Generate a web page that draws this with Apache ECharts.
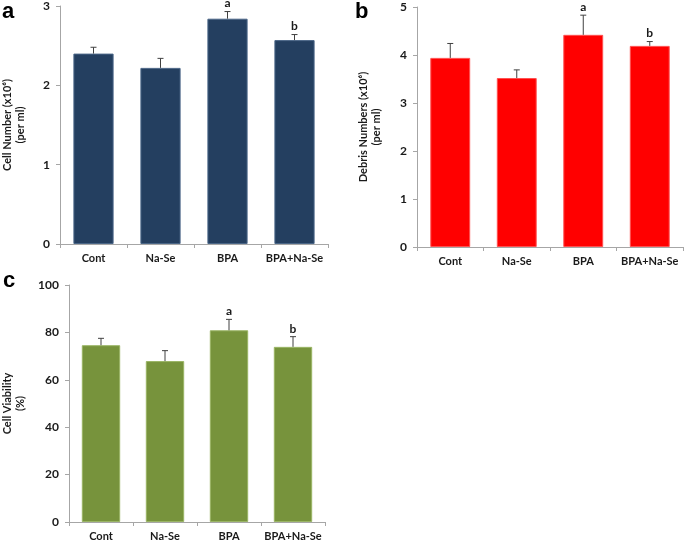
<!DOCTYPE html>
<html><head><meta charset="utf-8">
<script src="https://cdn.jsdelivr.net/npm/echarts@6/dist/echarts.min.js"></script>
<style>html,body{margin:0;padding:0;background:#fff}#c{width:685px;height:542px}</style>
</head><body><div id="c"></div>
<script>
const categories = ['Cont', 'Na-Se', 'BPA', 'BPA+Na-Se'];
const cellNumber = [2.40, 2.22, 2.84, 2.57];
const cellNumberErr = [0.08, 0.12, 0.09, 0.07];
const debris = [3.94, 3.52, 4.42, 4.19];
const debrisErr = [0.30, 0.17, 0.41, 0.09];
const viability = [74.6, 67.9, 80.9, 73.9];
const viabilityErr = [2.9, 4.4, 4.6, 4.3];
const annotations = ['', '', 'a', 'b'];

const FONT = 'Lato, "Open Sans", sans-serif';
const chart = echarts.init(document.getElementById('c'));

function xAxis(gi) {
  return {
    type: 'category', gridIndex: gi, data: categories,
    axisLine: { lineStyle: { color: '#a6a6a6', width: 1 } },
    axisTick: { show: true, length: 4, lineStyle: { color: '#a6a6a6' } },
    axisLabel: { interval: 0, color: '#1a1a1a', fontWeight: 'bold', fontSize: 11, fontFamily: FONT, margin: 9 }
  };
}
function yAxis(gi, max, interval, name, gap) {
  return {
    type: 'value', gridIndex: gi, min: 0, max: max, interval: interval,
    name: name, nameLocation: 'middle', nameRotate: 90, nameGap: gap,
    nameTextStyle: { color: '#1a1a1a', fontWeight: 'bold', fontSize: 11, fontFamily: FONT, lineHeight: 13, align: 'center' },
    axisLine: { show: true, lineStyle: { color: '#a6a6a6', width: 1 } },
    axisTick: { show: true, length: 4, lineStyle: { color: '#a6a6a6' } },
    splitLine: { show: false },
    axisLabel: { color: '#1a1a1a', fontWeight: 'bold', fontSize: 12, fontFamily: FONT, margin: 10 }
  };
}
function bars(gi, vals, color, border) {
  return {
    type: 'bar', xAxisIndex: gi, yAxisIndex: gi, data: vals, barWidth: '60%',
    itemStyle: { color: color, borderColor: border, borderWidth: 1 }, z: 2
  };
}
function errs(gi, vals, err) {
  return {
    type: 'custom', xAxisIndex: gi, yAxisIndex: gi, z: 3,
    data: vals.map((v, i) => [i, v, err[i]]),
    renderItem: function (params, api) {
      const i = api.value(0), v = api.value(1), e = api.value(2);
      const p0 = api.coord([i, v]);
      const p1 = api.coord([i, v + e]);
      const children = [
        { type: 'line', shape: { x1: p0[0], y1: p0[1], x2: p1[0], y2: p1[1] }, style: { stroke: '#404040', lineWidth: 1 } },
        { type: 'line', shape: { x1: p1[0] - 3, y1: p1[1], x2: p1[0] + 3, y2: p1[1] }, style: { stroke: '#404040', lineWidth: 1 } }
      ];
      const ann = annotations[params.dataIndex];
      if (ann) {
        children.push({ type: 'text', style: { text: ann, x: p1[0], y: p1[1] - 2, align: 'center', verticalAlign: 'bottom', fill: '#1a1a1a', font: 'bold 12px ' + FONT } });
      }
      return { type: 'group', children: children };
    }
  };
}

chart.setOption({
  animation: false,
  backgroundColor: '#fff',
  grid: [
    { left: 60, top: 5, width: 268, height: 239 },
    { left: 417, top: 7, width: 266, height: 240 },
    { left: 59, top: 285, width: 266, height: 239 }
  ],
  xAxis: [xAxis(0), xAxis(1), xAxis(2)],
  yAxis: [
    yAxis(0, 3, 1, 'Cell Number (x10\u2076)\n(per ml)', 33),
    yAxis(1, 5, 1, 'Debris Numbers (x10\u2076)\n(per ml)', 34),
    yAxis(2, 100, 20, 'Cell Viability\n(%)', 42)
  ],
  series: [
    bars(0, cellNumber, '#243F60', '#4a6687'),
    errs(0, cellNumber, cellNumberErr),
    bars(1, debris, '#FF0000', '#ff5050'),
    errs(1, debris, debrisErr),
    bars(2, viability, '#77933C', '#9ab565'),
    errs(2, viability, viabilityErr)
  ],
  graphic: [
    { type: 'text', left: 2, top: 1, style: { text: 'a', font: 'bold 22px Arial, "Liberation Sans", sans-serif', fill: '#000' } },
    { type: 'text', left: 355, top: 1, style: { text: 'b', font: 'bold 22px Arial, "Liberation Sans", sans-serif', fill: '#000' } },
    { type: 'text', left: 3, top: 270, style: { text: 'c', font: 'bold 22px Arial, "Liberation Sans", sans-serif', fill: '#000' } }
  ]
});
</script>
</body></html>
